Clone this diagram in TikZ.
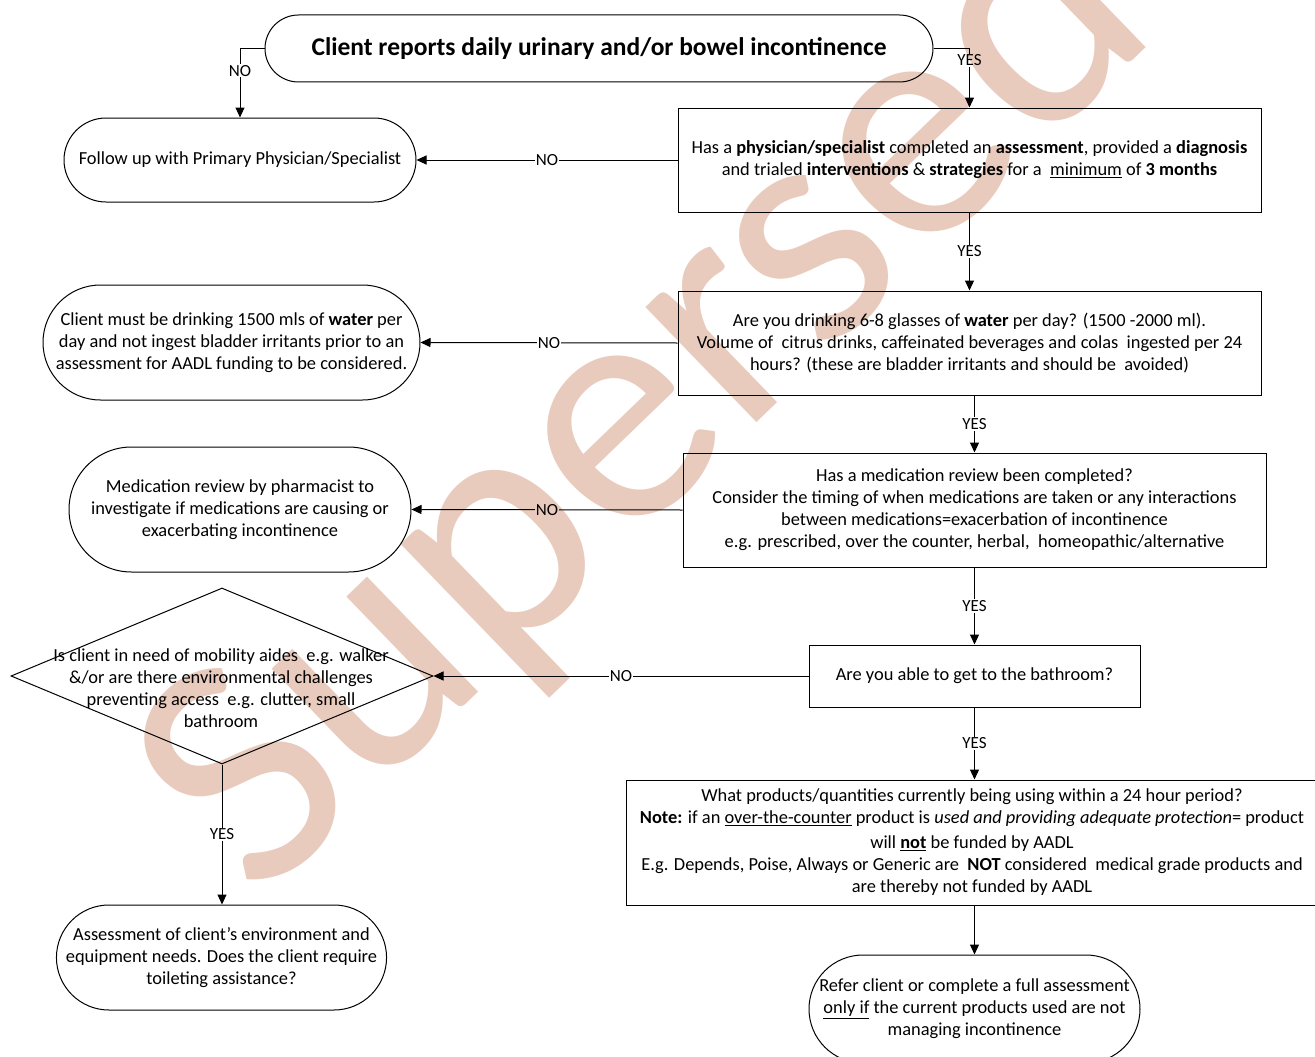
\documentclass[tikz,border=0pt]{standalone}
\usepackage{fontspec}
\setmainfont{Carlito}
\usetikzlibrary{shapes.geometric,shapes.misc,arrows.meta}
\definecolor{wm}{RGB}{233,203,189}
\begin{document}
\begin{tikzpicture}[x=1pt,y=-1pt,
  bodyf/.style={font=\fontsize{18.4}{22}\selectfont},
  term/.style={rounded rectangle, draw, line width=1pt, inner sep=0pt, align=center, bodyf},
  boxn/.style={rectangle, draw, line width=1pt, inner sep=0pt, align=center, bodyf},
  lbl/.style={fill=white, inner sep=1pt, font=\fontsize{17}{20}\selectfont},
  arr/.style={line width=1pt, -{Triangle[length=10pt,width=9pt]}},
  plain/.style={line width=1pt}]
\useasboundingbox (0,0) rectangle (1315,1057);
\fill[white] (0,0) rectangle (1315,1057);

\node[term, minimum width=668pt, minimum height=67pt, font=\bfseries\fontsize{25.5}{30}\selectfont] (t0) at (599,48.5) {Client reports daily urinary and/or bowel incontinence};
\node[term, minimum width=352pt, minimum height=84pt] (f1) at (240,160) {Follow up with Primary Physician/Specialist};
\node[boxn, minimum width=583pt, minimum height=104pt] (b1) at (969.5,160) {Has a \textbf{physician/specialist} completed an \textbf{assessment}, provided a \textbf{diagnosis}\\and trialed \textbf{interventions} \& \textbf{strategies} for a \ \underline{minimum} of \textbf{3 months}};
\node[term, minimum width=377pt, minimum height=115pt] (f2) at (231.5,342.5) {Client must be drinking 1500 mls of \textbf{water} per\\day and not ingest bladder irritants prior to an\\assessment for AADL funding to be considered.};
\node[boxn, minimum width=583pt, minimum height=104pt] (b2) at (969.5,343) {Are you drinking 6-8 glasses of \textbf{water} per day? (1500 -2000 ml).\\Volume of \ citrus drinks, caffeinated beverages and colas \ ingested per 24\\hours? (these are bladder irritants and should be \ avoided)};
\node[term, minimum width=342pt, minimum height=125pt] (f3) at (240,509.5) {Medication review by pharmacist to\\investigate if medications are causing or\\exacerbating incontinence};
\node[boxn, minimum width=583pt, minimum height=114pt] (b3) at (974.5,510) {Has a medication review been completed?\\Consider the timing of when medications are taken or any interactions\\between medications=exacerbation of incontinence\\e.g. prescribed, over the counter, herbal, \ homeopathic/alternative};
\node[diamond, draw, line width=1pt, inner sep=0pt, minimum width=422pt, minimum height=176pt] (dia) at (222,676) {};
\node[bodyf, align=center, inner sep=0pt] (diatext) at (221,688) {Is client in need of mobility aides \ e.g. walker\\\&/or are there environmental challenges\\preventing access \ e.g. clutter, small\\bathroom};
\node[boxn, minimum width=331pt, minimum height=62pt] (b4) at (974.5,676) {Are you able to get to the bathroom?};
\node[boxn, minimum width=692pt, minimum height=125pt] (b5) at (972,842.5) {What products/quantities currently being using within a 24 hour period?\\\textbf{Note:} if an \underline{over-the-counter} product is \textit{used and providing adequate protection}= product\\[3pt]will \underline{\textbf{not}} be funded by AADL\\E.g. Depends, Poise, Always or Generic are \ \textbf{NOT} considered \ medical grade products and\\are thereby not funded by AADL};
\node[term, minimum width=329pt, minimum height=105pt] (f4) at (221.5,957.5) {Assessment of client’s environment and\\equipment needs. Does the client require\\toileting assistance?};
\node[term, minimum width=331pt, minimum height=108pt] (f5) at (974.5,1009) {Refer client or complete a full assessment\\\underline{only if} the current products used are not\\managing incontinence};

\draw[arr] (t0.west) -| node[lbl, pos=0.66]{NO} (f1.north);
\draw[arr] (t0.east) -| node[lbl, pos=0.6]{YES} (b1.north);
\draw[arr] (b1.west) -- node[lbl]{NO} (f1.east);
\draw[arr] (b1.south) -- node[lbl]{YES} (b2.north);
\draw[arr] (b2.west) -- node[lbl]{NO} (f2.east);
\draw[arr] (b3.north |- b2.south) -- node[lbl]{YES} (b3.north);
\draw[arr] (b3.west) -- node[lbl]{NO} (f3.east);
\draw[arr] (b3.south) -- node[lbl]{YES} (b4.north);
\draw[arr] (b4.west) -- node[lbl]{NO} (dia.east);
\draw[arr] (b4.south) -- node[lbl]{YES} (b4.south |- b5.north);
\draw[arr] (dia.south) -- node[lbl]{YES} (dia.south |- f4.north);
\draw[arr] (f5.north |- b5.south) -- (f5.north);

\begin{scope}[blend mode=multiply]
\node[rotate=44, anchor=base west, inner sep=0pt, text=wm, font=\fontsize{335}{335}\selectfont] (wmark) at (258,905) {Superseded};
\end{scope}
\end{tikzpicture}
\end{document}
